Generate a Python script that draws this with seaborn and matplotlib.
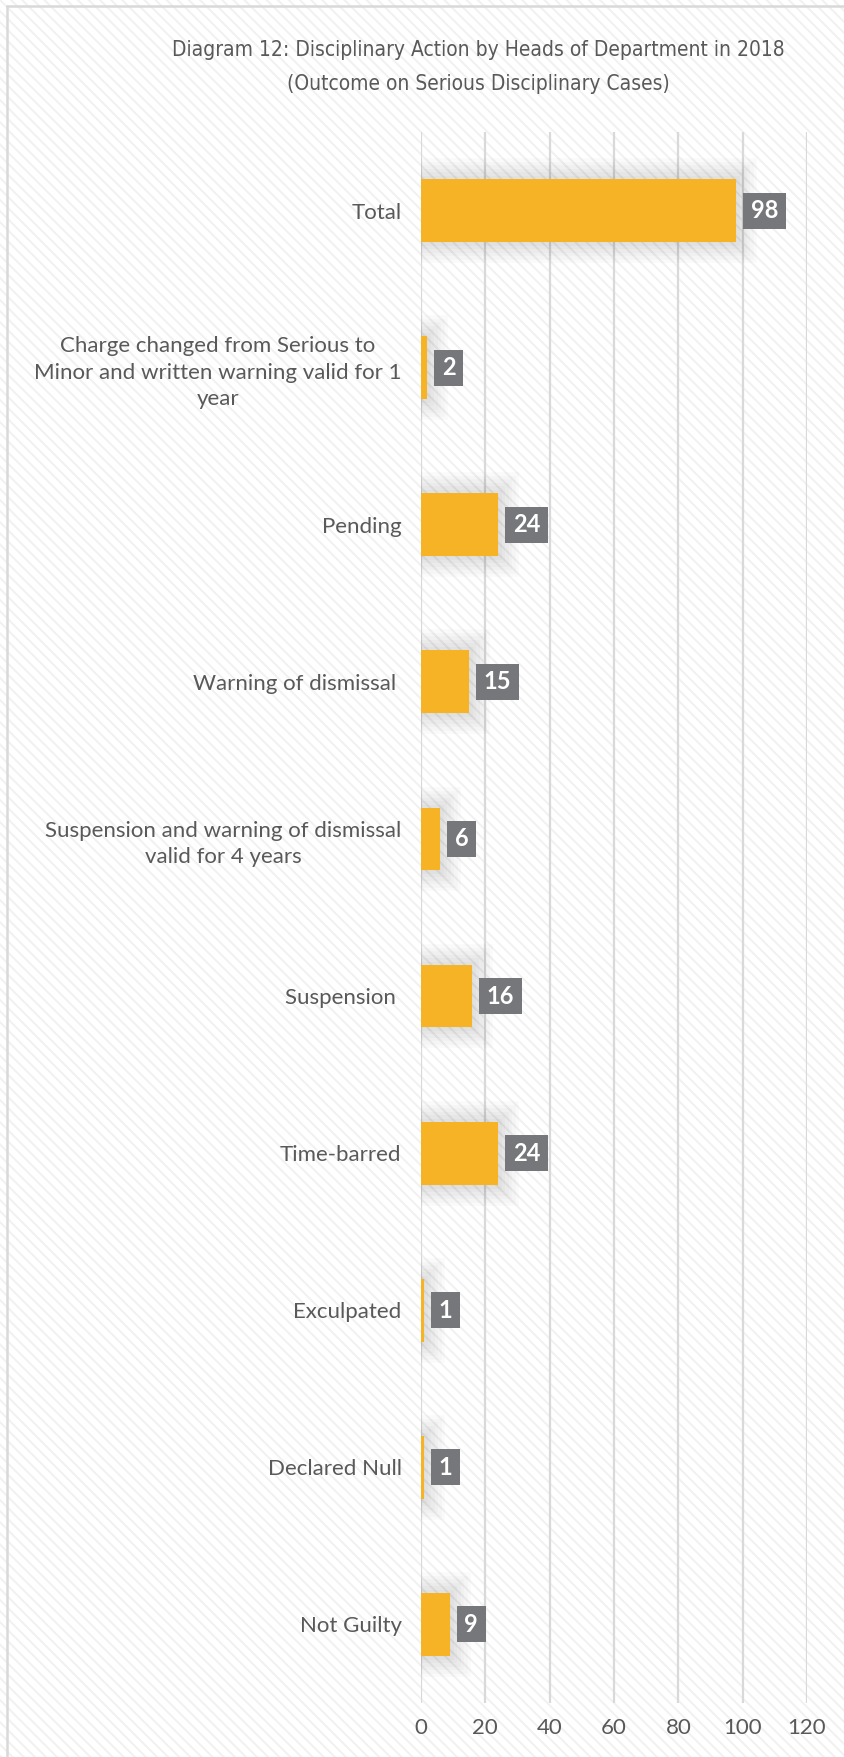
import numpy as np
import pandas as pd
import seaborn as sns
import matplotlib
matplotlib.use("Agg")
import matplotlib.pyplot as plt
from matplotlib.patches import Rectangle
from matplotlib.lines import Line2D
from matplotlib.transforms import IdentityTransform
import matplotlib.patheffects as pe
from matplotlib import font_manager

# ---------------- data ----------------
categories = [
    "Total",
    "Charge changed from Serious to\nMinor and written warning valid for 1\nyear",
    "Pending",
    "Warning of dismissal ",
    "Suspension and warning of dismissal\nvalid for 4 years",
    "Suspension ",
    "Time-barred",
    "Exculpated",
    "Declared Null",
    "Not Guilty",
]
values = [98, 2, 24, 15, 6, 16, 24, 1, 1, 9]
x_ticks = [0, 20, 40, 60, 80, 100, 120]
title_lines = [
    "Diagram 12: Disciplinary Action by Heads of Department in 2018",
    "(Outcome on Serious Disciplinary Cases)",
]

BAR = "#F6B325"
TXT = "#595959"
BOX = "#76777A"
GRID = "#D9D9D9"

sns.set_theme(style="white")
plt.rcParams["font.family"] = ["Lato", "DejaVu Sans"]
plt.rcParams["hatch.linewidth"] = 1.4

W, H = 845, 1757
fig = plt.figure(figsize=(W / 100, H / 100), dpi=100)
fig.patch.set_facecolor("white")

# hatched background
bg = Rectangle((0, 0), 1, 1, transform=fig.transFigure, facecolor="white",
               edgecolor="#F1F1F1", hatch="\\\\\\", linewidth=0, zorder=-10)
fig.add_artist(bg)
# chart border (top / left visible)
fig.add_artist(Line2D([7 / W, 7 / W], [0, 1 - 6 / H], transform=fig.transFigure,
                      color=GRID, lw=1.8, zorder=-5))
fig.add_artist(Line2D([7 / W, 1], [1 - 6 / H, 1 - 6 / H], transform=fig.transFigure,
                      color=GRID, lw=1.8, zorder=-5))

ax = fig.add_axes([421 / W, 1 - 1703 / H, (807 - 421) / W, (1703 - 132) / H])
ax.set_facecolor("none")

df = pd.DataFrame({"category": categories, "value": values})
sns.barplot(data=df, x="value", y="category", orient="h", color=BAR,
            saturation=1, width=0.4, ax=ax, zorder=3, linewidth=0)

# soft glow shadow
effects = [pe.Stroke(linewidth=w, foreground="black", alpha=0.018)
           for w in (30, 25, 20, 15, 10, 5)]
effects.append(pe.Normal())
for p in ax.patches:
    p.set_path_effects(effects)

ax.set_xlim(0, 120)
ax.set_xticks(x_ticks)
ax.set_ylim(len(categories) - 0.5, -0.5)
ax.grid(axis="x", color=GRID, linewidth=1.6)
ax.grid(axis="y", visible=False)
ax.set_axisbelow(True)
for s in ax.spines.values():
    s.set_visible(False)
ax.set_xlabel("")
ax.set_ylabel("")
ax.tick_params(axis="x", length=0, labelsize=16, labelcolor=TXT, pad=11)
ax.tick_params(axis="y", length=0, labelsize=16, labelcolor=TXT, pad=14)
for lab in ax.get_yticklabels():
    lab.set_multialignment("center")
    lab.set_linespacing(1.4)

# value labels (text first, boxes sized from the rendered text)
GAP, HPAD, BOXH = 7, 7.5, 36
val_texts = []
for i, v in enumerate(values):
    t = ax.annotate(str(v), xy=(v, i), xytext=((GAP + HPAD) * 0.72, 0),
                    textcoords="offset points", ha="left", va="center",
                    color="white", fontsize=17, fontweight="bold", zorder=6,
                    annotation_clip=False)
    val_texts.append(t)

# title (condensed font fitted to width)
names = {f.name for f in font_manager.fontManager.ttflist}
if "Liberation Sans Narrow" in names:
    tfam, tstretch = ["Liberation Sans Narrow", "DejaVu Sans"], "normal"
else:
    tfam, tstretch = ["DejaVu Sans", "Lato"], "condensed"
title_y = [50, 84]
texts = []
for line, yy in zip(title_lines, title_y):
    t = fig.text(478 / W, 1 - yy / H, line, ha="center", va="center", color=TXT,
                 fontsize=16, family=tfam, fontstretch=tstretch)
    texts.append(t)

fig.canvas.draw()
r = fig.canvas.get_renderer()
scale = 615 / texts[0].get_window_extent(r).width
for t in texts:
    t.set_fontsize(16 * scale)

for i, (v, t) in enumerate(zip(values, val_texts)):
    bb = t.get_window_extent(r)
    yc = ax.transData.transform((v, i))[1]
    rect = Rectangle((bb.x0 - HPAD, yc - BOXH / 2), bb.width + 2 * HPAD, BOXH,
                     transform=IdentityTransform(), facecolor=BOX,
                     edgecolor="none", zorder=5, clip_on=False)
    ax.add_patch(rect)

fig.savefig("out.png", dpi=100)
